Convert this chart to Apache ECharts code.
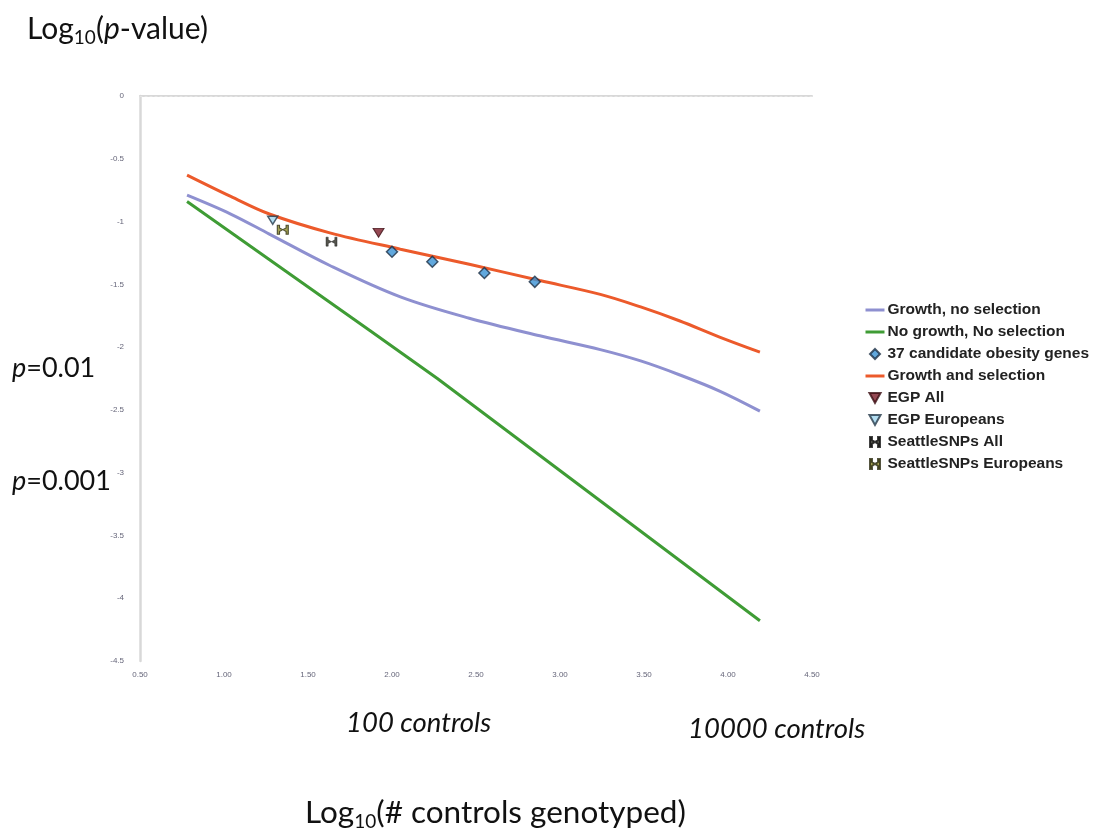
<!DOCTYPE html>
<html>
<head>
<meta charset="utf-8">
<script src="https://cdn.jsdelivr.net/npm/echarts@6/dist/echarts.min.js"></script>
<style>html,body{margin:0;padding:0;background:#fff;}#c{width:1110px;height:832px;}</style>
</head>
<body>
<div id="c"></div>
<script>
// ---- data ----
const xTicks = [0.5, 1.0, 1.5, 2.0, 2.5, 3.0, 3.5, 4.0, 4.5];
const yTicks = [0, -0.5, -1, -1.5, -2, -2.5, -3, -3.5, -4, -4.5];

const growthNoSelX = [0.78, 1.04, 1.27, 1.63, 2.05, 2.46, 2.88, 3.24, 3.48, 3.71, 3.95, 4.19];
const growthNoSelY = [-0.79, -0.94, -1.10, -1.35, -1.60, -1.77, -1.91, -2.02, -2.11, -2.22, -2.35, -2.51];

const noGrowthX = [0.78, 1.87, 2.27, 4.19];
const noGrowthY = [-0.84, -1.87, -2.25, -4.18];

const growthSelX = [0.78, 1.04, 1.27, 1.63, 2.05, 2.46, 2.88, 3.24, 3.48, 3.71, 3.95, 4.19];
const growthSelY = [-0.63, -0.80, -0.94, -1.09, -1.22, -1.34, -1.47, -1.58, -1.68, -1.79, -1.92, -2.04];

const obesityX = [2.0, 2.24, 2.55, 2.85];
const obesityY = [-1.24, -1.32, -1.41, -1.48];

const egpAllX = [1.92];          const egpAllY = [-1.09];
const egpEurX = [1.29];          const egpEurY = [-0.99];
const seattleAllX = [1.64];      const seattleAllY = [-1.16];
const seattleEurX = [1.35];      const seattleEurY = [-1.065];

const seriesNames = ['Growth, no selection', 'No growth, No selection', '37 candidate obesity genes',
  'Growth and selection', 'EGP All', 'EGP Europeans', 'SeattleSNPs All', 'SeattleSNPs Europeans'];

const zip = (xs, ys) => xs.map((x, i) => [x, ys[i]]);
const bowtie = 'path://M0,0 L2,0 L2,3 L5,5 L8,3 L8,0 L10,0 L10,10 L8,10 L8,7 L5,5 L2,7 L2,10 L0,10 Z';
const triDown = 'path://M0,0 L10,0 L5,9 Z';
const diamond = 'path://M5,0 L10,5 L5,10 L0,5 Z';

const chart = echarts.init(document.getElementById('c'), null, {renderer: 'canvas'});
const labelStyle = {fontSize: 8, color: '#66667a', fontFamily: 'Liberation Sans'};
const lineLegend = name => ({name: name, itemStyle: {opacity: 0}, lineStyle: {width: 3}});

chart.setOption({
  animation: false,
  backgroundColor: '#fff',
  grid: {left: 140, right: 298, top: 96, bottom: 171},
  xAxis: [{
    type: 'value', min: 0.5, max: 4.5, interval: 0.5,
    axisLine: {show: true, lineStyle: {color: '#d8d8d8', width: 2}},
    axisTick: {show: false},
    splitLine: {show: false},
    axisLabel: Object.assign({margin: 10, formatter: v => v.toFixed(2)}, labelStyle)
  }, {
    type: 'value', position: 'top', min: 0.5, max: 4.5, interval: 0.5,
    axisLine: {show: true, onZero: false, lineStyle: {color: '#e4e4e4', width: 1, type: [2, 3]}},
    axisTick: {show: false}, axisLabel: {show: false}, splitLine: {show: false}
  }],
  yAxis: {
    type: 'value', min: -4.5, max: 0, interval: 0.5,
    axisLine: {show: true, lineStyle: {color: '#d8d8d8', width: 2.5}},
    axisTick: {show: false},
    splitLine: {show: false},
    axisLabel: Object.assign({margin: 16, formatter: v => String(v)}, labelStyle)
  },
  legend: {
    orient: 'vertical', left: 859, top: 297, itemGap: 6, itemWidth: 19, itemHeight: 10,
    symbolKeepAspect: true,
    data: [lineLegend(seriesNames[0]), lineLegend(seriesNames[1]), seriesNames[2], lineLegend(seriesNames[3]),
      seriesNames[4], seriesNames[5], seriesNames[6], seriesNames[7]],
    textStyle: {fontSize: 15.5, fontWeight: 'bold', color: '#222', fontFamily: 'Liberation Sans', padding: [0, 0, 0, -2]}
  },
  series: [
    {name: seriesNames[0], type: 'line', smooth: 0.35, symbol: 'none', data: zip(growthNoSelX, growthNoSelY),
      lineStyle: {color: '#8e90d0', width: 3}, itemStyle: {color: '#8e90d0'}},
    {name: seriesNames[1], type: 'line', smooth: false, symbol: 'none', data: zip(noGrowthX, noGrowthY),
      lineStyle: {color: '#3f9c35', width: 3}, itemStyle: {color: '#3f9c35'}},
    {name: seriesNames[2], type: 'scatter', symbol: diamond, symbolKeepAspect: true, symbolSize: 11, data: zip(obesityX, obesityY), z: 5,
      itemStyle: {color: '#3a92d4', borderColor: '#1d2f45', borderWidth: 1.5}},
    {name: seriesNames[3], type: 'line', smooth: 0.35, symbol: 'none', data: zip(growthSelX, growthSelY),
      lineStyle: {color: '#ec5a2b', width: 3}, itemStyle: {color: '#ec5a2b'}},
    {name: seriesNames[4], type: 'scatter', symbol: triDown, symbolKeepAspect: true, symbolSize: [11, 10], data: zip(egpAllX, egpAllY), z: 5,
      itemStyle: {color: '#7a1a28', borderColor: '#3a0d12', borderWidth: 1}},
    {name: seriesNames[5], type: 'scatter', symbol: triDown, symbolKeepAspect: true, symbolSize: [10, 9], data: zip(egpEurX, egpEurY), z: 5,
      itemStyle: {color: '#9fd4ee', borderColor: '#26394a', borderWidth: 1.5}},
    {name: seriesNames[6], type: 'scatter', symbol: bowtie, symbolKeepAspect: true, symbolSize: [11, 9], data: zip(seattleAllX, seattleAllY), z: 5,
      itemStyle: {color: '#2b2b22', borderColor: '#111', borderWidth: 0.5}},
    {name: seriesNames[7], type: 'scatter', symbol: bowtie, symbolKeepAspect: true, symbolSize: [11, 9], data: zip(seattleEurX, seattleEurY), z: 5,
      itemStyle: {color: '#8d8b2a', borderColor: '#2a2a10', borderWidth: 1}}
  ],
  graphic: [
    {type: 'text', left: 27, top: 14, style: {
      text: '{a|Log}{s|10}{a|(}{i|p}{a|-value)}',
      rich: {
        a: {fontSize: 30, fontFamily: 'Lato', fill: '#111'},
        i: {fontSize: 30, fontFamily: 'Lato', fontStyle: 'italic', fill: '#111'},
        s: {fontSize: 19, fontFamily: 'Lato', fill: '#111', padding: [18, 0, 0, 0]}
      }}},
    {type: 'text', left: 12, top: 355, style: {
      text: '{i|p}{a|=0.01}',
      rich: {
        a: {fontSize: 27, fontFamily: 'Lato', fill: '#111'},
        i: {fontSize: 27, fontFamily: 'Lato', fontStyle: 'italic', fill: '#111'}
      }}},
    {type: 'text', left: 12, top: 468, style: {
      text: '{i|p}{a|=0.001}',
      rich: {
        a: {fontSize: 27, fontFamily: 'Lato', fill: '#111'},
        i: {fontSize: 27, fontFamily: 'Lato', fontStyle: 'italic', fill: '#111'}
      }}},
    {type: 'text', left: 346, top: 710, style: {
      text: '100 controls', fontSize: 27.5, fontFamily: 'Lato', fontStyle: 'italic', fill: '#111'}},
    {type: 'text', left: 688, top: 716, style: {
      text: '10000 controls', fontSize: 27.5, fontFamily: 'Lato', fontStyle: 'italic', fill: '#111'}},
    {type: 'text', left: 305, top: 797, style: {
      text: '{a|Log}{s|10}{a|(# controls genotyped)}',
      rich: {
        a: {fontSize: 31.5, fontFamily: 'Lato', fill: '#111'},
        s: {fontSize: 19, fontFamily: 'Lato', fill: '#111', padding: [18, 0, 0, 0]}
      }}}
  ]
});
</script>
</body>
</html>
